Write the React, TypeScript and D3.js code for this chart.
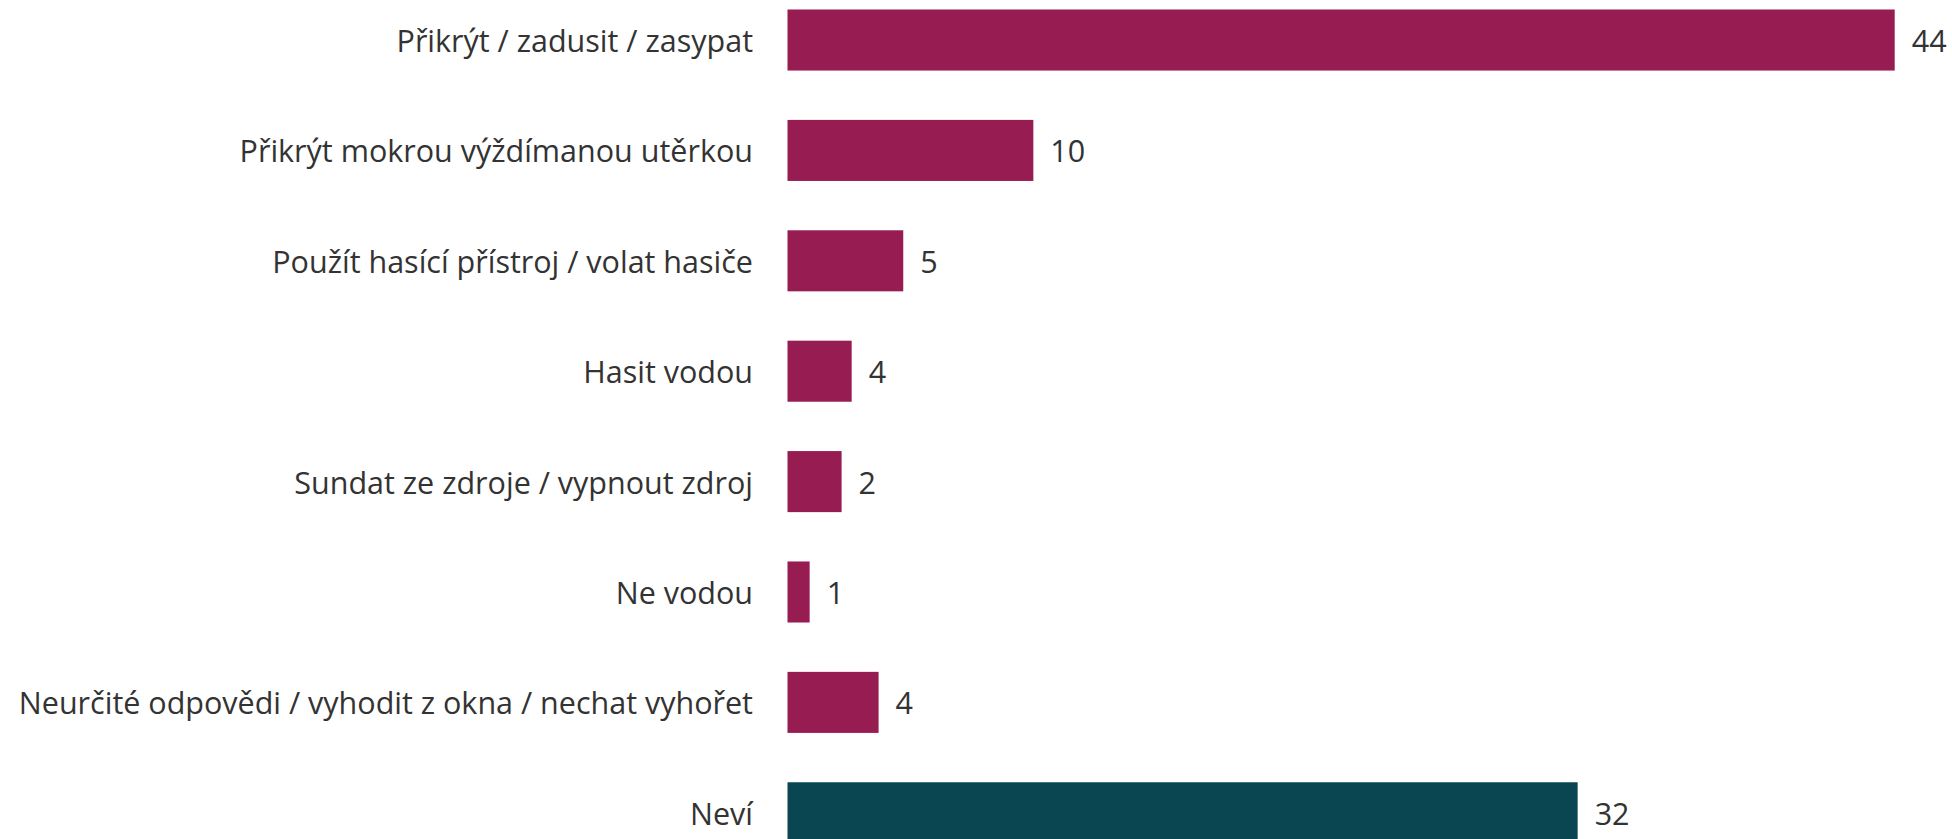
import React from "react";
import * as d3 from "d3";

const categories = [
  "Přikrýt / zadusit / zasypat",
  "Přikrýt mokrou výždímanou utěrkou",
  "Použít hasící přístroj / volat hasiče",
  "Hasit vodou",
  "Sundat ze zdroje / vypnout zdroj",
  "Ne vodou",
  "Neurčité odpovědi / vyhodit z okna / nechat vyhořet",
  "Neví",
];
const values = [44, 9.77, 4.6, 2.55, 2.15, 0.88, 3.62, 31.4];
const valueLabels = ["44", "10", "5", "4", "2", "1", "4", "32"];
const groups = ["a", "a", "a", "a", "a", "a", "a", "b"];

const W = 1952;
const H = 839;
const X0 = 787.5;
const COLORS: Record<string, string> = { a: "#961C52", b: "#0A4651" };

export default function App() {
  const x = d3.scaleLinear().domain([0, 44]).range([X0, 1894.7]);
  const y = d3
    .scaleBand<string>()
    .domain(categories)
    .range([9.5, 843.3])
    .paddingInner(0.447)
    .paddingOuter(0);
  const font = "'Open Sans', 'Noto Sans', sans-serif";
  return (
    <svg
      width={W}
      height={H}
      style={{ position: "fixed", left: 0, top: 0, display: "block", background: "#fff" }}
    >
      {categories.map((c, i) => {
        const yy = y(c)!;
        const bw = y.bandwidth();
        const xe = x(values[i]);
        return (
          <g key={c}>
            <rect x={X0} y={yy} width={xe - X0} height={bw} fill={COLORS[groups[i]]} />
            <text
              x={753}
              y={yy + bw / 2}
              textAnchor="end"
              dominantBaseline="central"
              fontFamily={font}
              fontSize={30.5}
              fill="#333333"
            >
              {c}
            </text>
            <text
              x={xe + 17}
              y={yy + bw / 2}
              dominantBaseline="central"
              fontFamily={font}
              fontSize={30.5}
              fill="#333333"
            >
              {valueLabels[i]}
            </text>
          </g>
        );
      })}
    </svg>
  );
}
